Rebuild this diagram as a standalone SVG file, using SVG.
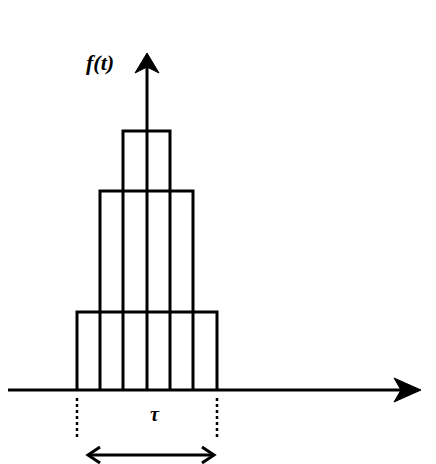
<svg xmlns="http://www.w3.org/2000/svg" width="436" height="464" viewBox="0 0 436 464">
<style>
.ln{stroke:#000;stroke-width:3;fill:none}
.dash{stroke:#000;stroke-width:2.5;stroke-dasharray:3 3;fill:none}
.head{fill:#000;stroke:#000;stroke-width:1}
.lbl{font-family:"Liberation Serif",serif;font-style:italic;font-weight:bold;fill:#000}
</style>
<rect width="436" height="464" fill="#fff"/>
<g id="connectors">
<line class="ln" x1="8" y1="390" x2="405" y2="390"/>
<path class="head" d="M421,390 L394,378 L401,390 L394,402 Z"/>
<line class="ln" x1="147" y1="390" x2="147" y2="66"/>
<path class="head" d="M147,53 L135,73 L147,67 L159,73 Z"/>
<line class="dash" x1="77" y1="398" x2="77" y2="440"/>
<line class="dash" x1="217" y1="398" x2="217" y2="440"/>
<line class="ln" x1="88" y1="455" x2="214" y2="455"/>
<polyline class="ln" points="100,447 88,455 100,463"/>
<polyline class="ln" points="202,447 214,455 202,463"/>
</g>
<g id="pulse-top">
<polyline class="ln" points="123,390 123,131 170,131 170,390"/>
</g>
<g id="pulse-middle">
<polyline class="ln" points="100,390 100,191 193,191 193,390"/>
</g>
<g id="pulse-bottom">
<polyline class="ln" points="77,390 77,312 217,312 217,390"/>
</g>
<g id="labels">
<text class="lbl" x="86" y="70" font-size="22">f(t)</text>
<text class="lbl" x="150" y="421" font-size="20">τ</text>
</g>
</svg>
